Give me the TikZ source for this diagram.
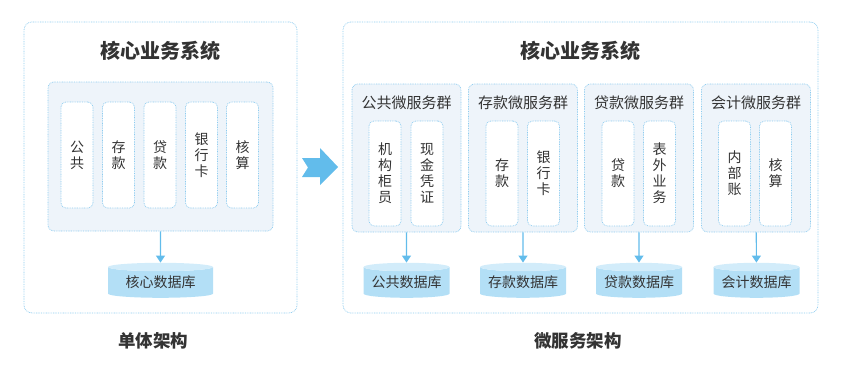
\documentclass[tikz,border=0pt]{standalone}
\usepackage{fontspec}
\setmainfont{Noto Sans CJK SC}
\usetikzlibrary{arrows.meta,shapes.geometric}
\definecolor{txt}{HTML}{333333}
\definecolor{edge}{HTML}{8CCBEF}
\definecolor{grp}{HTML}{EEF4FA}
\definecolor{dbfill}{HTML}{B3DFF6}
\definecolor{dbtop}{HTML}{D2ECFA}
\definecolor{flow}{HTML}{62BCEB}
\begin{document}
\begin{tikzpicture}[x=1pt,y=-1pt,
  every node/.style={text=txt,font=\fontsize{14}{16}\selectfont},
  frame/.style={draw=edge,line width=0.7pt,dash pattern=on 0.8pt off 0.9pt,rounded corners=8pt},
  group/.style={frame,fill=grp,rounded corners=6pt},
  col/.style={frame,fill=white,rounded corners=5pt,minimum width=32pt,align=center,inner sep=0pt},
  db/.style={cylinder,shape border rotate=90,aspect=0.12,minimum height=35pt,
    cylinder uses custom fill,cylinder body fill=dbfill,cylinder end fill=dbtop,inner sep=0pt},
  title/.style={font=\fontsize{20}{22}\selectfont\bfseries},
  caption/.style={font=\fontsize{17.5}{20}\selectfont\bfseries},
  gtitle/.style={font=\fontsize{15}{18}\selectfont},
  link/.style={draw=flow,line width=1.2pt,-{Triangle[width=9pt,length=7pt]}}]
\useasboundingbox (0,0) rectangle (843,367);
% monolith
\node[frame,minimum width=273pt,minimum height=291pt] (mono) at (160.5,167.5) {};
\node[title] (monot) at (160.5,51) {核心业务系统};
\node[group,minimum width=225pt,minimum height=149pt] (core) at (160.5,156.5) {};
\node[col,minimum height=106pt] (c1) at (77,155) {公\\共};
\node[col,minimum height=106pt] (c2) at (118.5,155) {存\\款};
\node[col,minimum height=106pt] (c3) at (160,155) {贷\\款};
\node[col,minimum height=106pt] (c4) at (201.5,155) {银\\行\\卡};
\node[col,minimum height=106pt] (c5) at (242.5,155) {核\\算};
\node[db,minimum width=105pt] (coredb) at (160.5,282.5) {核心数据库};
\draw[link] (core) -- (coredb);
\node[caption] (monol) at (153,341) {单体架构};
% big arrow
\fill[flow] (302,158) -- (320,158) -- (320,148) -- (338,167) -- (320,185)
  -- (320,177) -- (302,177) -- (308,167.5) -- cycle;
% microservices
\node[frame,minimum width=475pt,minimum height=291pt] (micro) at (580.5,167.5) {};
\node[title] (microt) at (580.5,51) {核心业务系统};
\node[group,minimum width=109pt,minimum height=148pt] (g1) at (406.5,158) {};
\node[group,minimum width=109pt,minimum height=148pt] (g2) at (523,158) {};
\node[group,minimum width=109pt,minimum height=148pt] (g3) at (639,158) {};
\node[group,minimum width=109pt,minimum height=148pt] (g4) at (756,158) {};
\node[gtitle] (g1t) at (406.5,103) {公共微服务群};
\node[gtitle] (g2t) at (523,103) {存款微服务群};
\node[gtitle] (g3t) at (639,103) {贷款微服务群};
\node[gtitle] (g4t) at (756,103) {会计微服务群};
\node[col,minimum height=105pt] (s11) at (385,173.5) {机\\构\\柜\\员};
\node[col,minimum height=105pt] (s12) at (427,173.5) {现\\金\\凭\\证};
\node[col,minimum height=105pt] (s21) at (502,173.5) {存\\款};
\node[col,minimum height=105pt] (s22) at (543.5,173.5) {银\\行\\卡};
\node[col,minimum height=105pt] (s31) at (618,173.5) {贷\\款};
\node[col,minimum height=105pt] (s32) at (659.5,173.5) {表\\外\\业\\务};
\node[col,minimum height=105pt] (s41) at (734.5,173.5) {内\\部\\账};
\node[col,minimum height=105pt] (s42) at (775.5,173.5) {核\\算};
\node[db,minimum width=86pt] (db1) at (406.5,282.5) {公共数据库};
\node[db,minimum width=86pt] (db2) at (523,282.5) {存款数据库};
\node[db,minimum width=86pt] (db3) at (639,282.5) {贷款数据库};
\node[db,minimum width=86pt] (db4) at (756.5,282.5) {会计数据库};
\draw[link] (g1) -- (db1);
\draw[link] (g2) -- (db2);
\draw[link] (g3) -- (db3);
\draw[link] (g4) -- (db4);
\node[caption] (microl) at (578,341) {微服务架构};
\end{tikzpicture}
\end{document}
